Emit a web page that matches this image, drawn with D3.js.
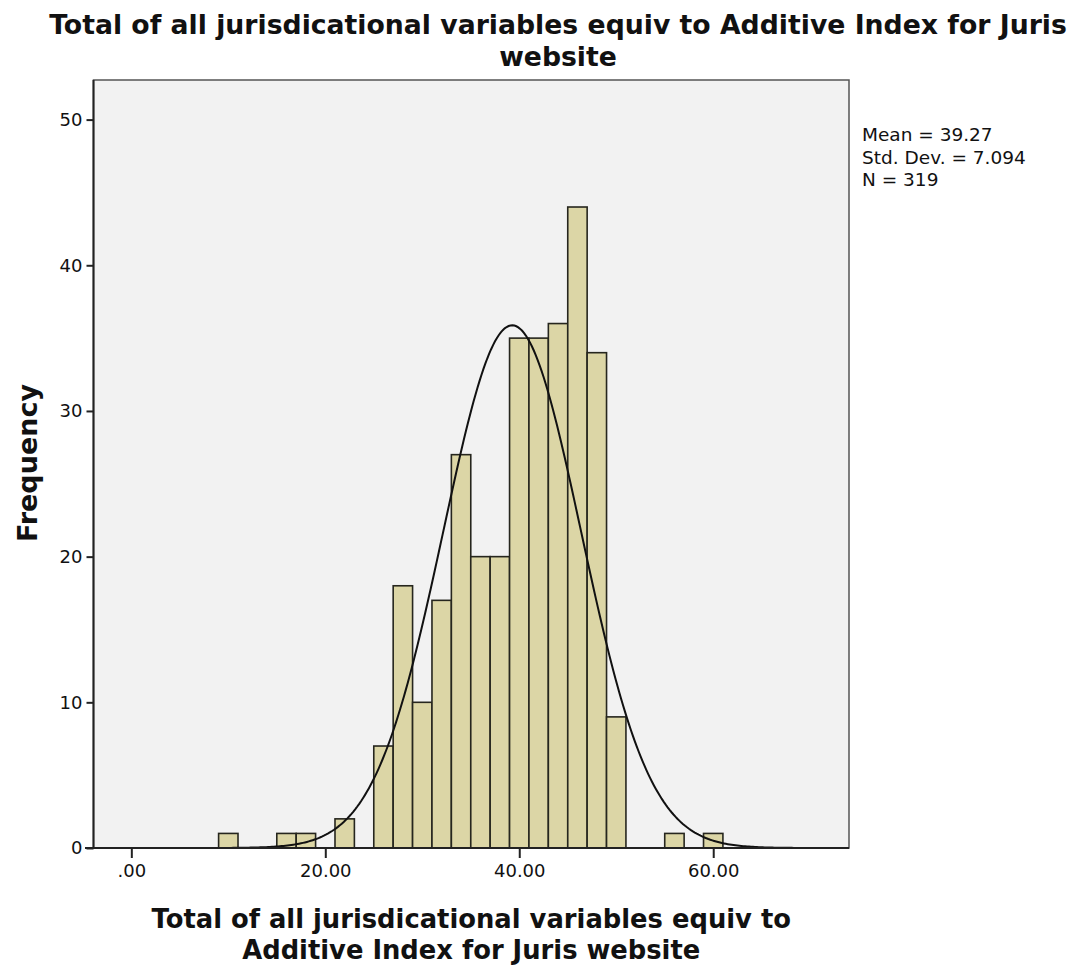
<!DOCTYPE html>
<html>
<head>
<meta charset="utf-8">
<script src="https://cdn.jsdelivr.net/npm/d3@7"></script>
<style>
  body { margin: 0; background: #fff; }
  text { font-family: "DejaVu Sans", sans-serif; fill: #111; }
</style>
</head>
<body>
<div id="chart"></div>
<script>
// histogram bins (lower edge), width 2
var binLow = [9, 15, 17, 21, 25, 27, 29, 31, 33, 35, 37, 39, 41, 43, 45, 47, 49, 55, 59];
var counts = [1, 1, 1, 2, 7, 18, 10, 17, 27, 20, 20, 35, 35, 36, 44, 34, 9, 1, 1];
var binWidth = 2;
var xTicks = [0, 20, 40, 60];
var yTicks = [0, 10, 20, 30, 40, 50];
var statLabels = ["Mean", "Std. Dev.", "N"];
var statValues = ["39.27", "7.094", "319"];
var mean = 39.27, sd = 7.094, n = 319;
var title = ["Total of all jurisdicational variables equiv to Additive Index for Juris", "website"];
var xTitle = ["Total of all jurisdicational variables equiv to", "Additive Index for Juris website"];

var width = 1078, height = 965;
var margin = {left: 93.5, right: 849, top: 80, bottom: 848};

var svg = d3.select("#chart").append("svg")
    .attr("width", width)
    .attr("height", height);

var x = d3.scaleLinear().domain([-3.9, 74]).range([margin.left, margin.right]);
var y = d3.scaleLinear().domain([0, 50]).range([margin.bottom, 119.6]);

// plot background
svg.append("rect")
    .attr("x", margin.left)
    .attr("y", margin.top)
    .attr("width", margin.right - margin.left)
    .attr("height", margin.bottom - margin.top)
    .attr("fill", "#f2f2f2")
    .attr("stroke", "#555")
    .attr("stroke-width", 1.5);

// bars
svg.selectAll("rect.bar")
    .data(binLow)
    .enter()
    .append("rect")
    .attr("class", "bar")
    .attr("x", function(d) { return x(d); })
    .attr("width", function(d) { return x(d + binWidth) - x(d); })
    .attr("y", function(d, i) { return y(counts[i]); })
    .attr("height", function(d, i) { return y(0) - y(counts[i]); })
    .attr("fill", "#dcd6a6")
    .attr("stroke", "#26261e")
    .attr("stroke-width", 1.6);

// normal curve from mean / sd
var pts = d3.range(x.domain()[0], x.domain()[1] + 0.01, 0.2).map(function(v) {
    var z = (v - mean) / sd;
    return [v, n * binWidth * Math.exp(-0.5 * z * z) / (sd * Math.sqrt(2 * Math.PI))];
});
svg.append("path")
    .datum(pts)
    .attr("fill", "none")
    .attr("stroke", "#111")
    .attr("stroke-width", 2)
    .attr("d", d3.line()
        .x(function(d) { return x(d[0]); })
        .y(function(d) { return y(d[1]); }));

// axes
var xAxis = svg.append("g")
    .attr("transform", "translate(0," + margin.bottom + ")")
    .call(d3.axisBottom(x).tickValues(xTicks).tickSize(10).tickPadding(6)
        .tickFormat(function(d) { return d === 0 ? ".00" : d3.format(".2f")(d); }));
xAxis.select(".domain").attr("d", "M85,0H" + margin.right).attr("stroke", "#222").attr("stroke-width", 2);
xAxis.selectAll(".tick line").attr("stroke", "#222").attr("stroke-width", 2);
xAxis.selectAll("text").style("font-size", "18px").attr("fill", "#111");

var yAxis = svg.append("g")
    .attr("transform", "translate(" + margin.left + ",0)")
    .call(d3.axisLeft(y).tickValues(yTicks).tickSize(7).tickPadding(4));
yAxis.select(".domain").attr("d", "M0," + margin.top + "V" + margin.bottom).attr("stroke", "#222").attr("stroke-width", 2);
yAxis.selectAll(".tick line").attr("stroke", "#222").attr("stroke-width", 2);
yAxis.selectAll("text").style("font-size", "18px").attr("fill", "#111");

// titles
svg.selectAll("text.title")
    .data(title)
    .enter()
    .append("text")
    .attr("class", "title")
    .attr("x", 558)
    .attr("y", function(d, i) { return 34 + i * 32; })
    .attr("text-anchor", "middle")
    .style("font-size", "26.7px")
    .style("font-weight", "bold")
    .text(function(d) { return d; });

svg.selectAll("text.xtitle")
    .data(xTitle)
    .enter()
    .append("text")
    .attr("class", "xtitle")
    .attr("x", (margin.left + margin.right) / 2)
    .attr("y", function(d, i) { return 928 + i * 31; })
    .attr("text-anchor", "middle")
    .style("font-size", "25.8px")
    .style("font-weight", "bold")
    .text(function(d) { return d; });

svg.append("text")
    .attr("transform", "translate(37," + ((margin.top + margin.bottom) / 2 - 1) + ") rotate(-90)")
    .attr("text-anchor", "middle")
    .style("font-size", "27px")
    .style("font-weight", "bold")
    .text("Frequency");

// stats box
svg.selectAll("text.stat")
    .data(statLabels)
    .enter()
    .append("text")
    .attr("class", "stat")
    .attr("x", 862)
    .attr("y", function(d, i) { return 141 + i * 22.5; })
    .style("font-size", "18.5px")
    .text(function(d, i) { return d + " = " + statValues[i]; });
</script>
</body>
</html>
